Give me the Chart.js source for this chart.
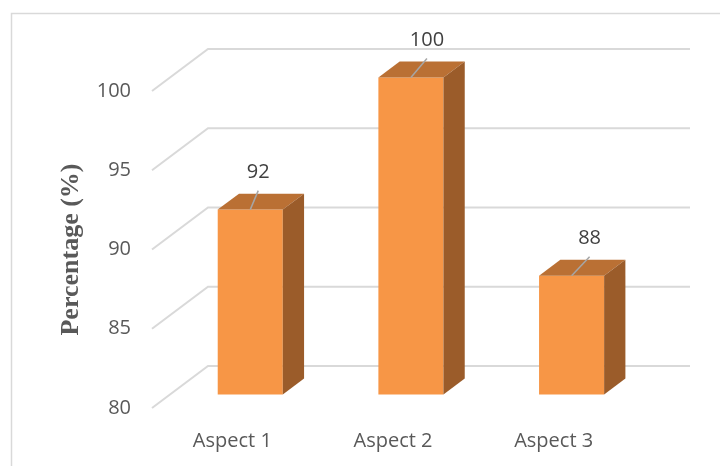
<!DOCTYPE html>
<html>
<head>
<meta charset="utf-8">
<script src="https://cdn.jsdelivr.net/npm/chart.js@4.4.1/dist/chart.umd.min.js"></script>
<style>
  html, body { margin: 0; padding: 0; background: #ffffff; }
  #wrap { width: 720px; height: 466px; position: relative; }
</style>
</head>
<body>
<div id="wrap"><canvas id="chart"></canvas></div>
<script>
// Chart data
const categories = ['Aspect 1', 'Aspect 2', 'Aspect 3'];
const percentages = [91.67, 100, 87.5];
const yTicks = [80, 85, 90, 95, 100];

// Colours (Excel orange 3D column)
const colors = {
  front: '#F79646',
  top: '#BA7034',
  side: '#9B5C2A',
  grid: '#D9D9D9',
  text: '#595959',
  label: '#404040',
  leader: '#A6A6A6',
};

// 3D projection: offset of the back wall from the front plane,
// and where the bar sits within that depth (fractions)
const depth = { dx: 56, dy: -42 };
const barDepth = { near: 0.32, far: 0.70 };
// leader line horizontal shift per bar (label placement)
const labelShift = [8, 16, 18];

const threeD = {
  id: 'threeD',
  beforeDraw(chart) {
    const ctx = chart.ctx;
    ctx.save();
    ctx.fillStyle = '#ffffff';
    ctx.fillRect(0, 0, chart.width, chart.height);
    // outer frame (runs off the right and bottom edges)
    ctx.strokeStyle = colors.grid;
    ctx.lineWidth = 1.5;
    ctx.strokeRect(11.5, 13.5, chart.width, chart.height);

    // gridlines: diagonal on the side wall, horizontal on the back wall
    const x = chart.scales.x;
    const y = chart.scales.y;
    ctx.strokeStyle = colors.grid;
    ctx.lineWidth = 2;
    yTicks.forEach((v) => {
      const py = y.getPixelForValue(v);
      ctx.beginPath();
      ctx.moveTo(x.left, py);
      ctx.lineTo(x.left + depth.dx, py + depth.dy);
      ctx.lineTo(x.right + depth.dx, py + depth.dy);
      ctx.stroke();
    });
    ctx.restore();
  },
  beforeDatasetsDraw(chart) {
    const ctx = chart.ctx;
    ctx.save();
    ctx.translate(depth.dx * barDepth.near, depth.dy * barDepth.near);
  },
  afterDatasetsDraw(chart) {
    const ctx = chart.ctx;
    const ox = depth.dx * (barDepth.far - barDepth.near);
    const oy = depth.dy * (barDepth.far - barDepth.near);
    const meta = chart.getDatasetMeta(0);
    meta.data.forEach((bar) => {
      const { x, y, base, width } = bar.getProps(['x', 'y', 'base', 'width'], true);
      const l = x - width / 2;
      const r = x + width / 2;
      // top face
      ctx.fillStyle = colors.top;
      ctx.beginPath();
      ctx.moveTo(l, y);
      ctx.lineTo(l + ox, y + oy);
      ctx.lineTo(r + ox, y + oy);
      ctx.lineTo(r, y);
      ctx.closePath();
      ctx.fill();
      // side face
      ctx.fillStyle = colors.side;
      ctx.beginPath();
      ctx.moveTo(r, y);
      ctx.lineTo(r + ox, y + oy);
      ctx.lineTo(r + ox, base + oy);
      ctx.lineTo(r, base);
      ctx.closePath();
      ctx.fill();
    });

    // value labels with leader lines
    ctx.font = '20px "Open Sans", sans-serif';
    ctx.textAlign = 'center';
    ctx.textBaseline = 'middle';
    meta.data.forEach((bar, i) => {
      const { x, y } = bar.getProps(['x', 'y'], true);
      const lx = x + labelShift[i];
      ctx.strokeStyle = colors.leader;
      ctx.lineWidth = 1.5;
      ctx.beginPath();
      ctx.moveTo(x, y);
      ctx.lineTo(lx, y - 19);
      ctx.stroke();
      ctx.fillStyle = colors.label;
      ctx.fillText(Math.round(percentages[i]).toString(), lx, y - 37);
    });
    ctx.restore();
  },
};

const ctx = document.getElementById('chart').getContext('2d');
new Chart(ctx, {
  type: 'bar',
  data: {
    labels: categories,
    datasets: [{
      data: percentages,
      base: 80,
      backgroundColor: colors.front,
      borderWidth: 0,
      barPercentage: 0.405,
      categoryPercentage: 1,
      clip: false,
    }],
  },
  options: {
    responsive: true,
    maintainAspectRatio: false,
    animation: false,
    layout: { padding: { left: 40, right: 86, top: 91, bottom: 0 } },
    plugins: {
      legend: { display: false },
      tooltip: { enabled: false },
    },
    scales: {
      x: {
        grid: { display: false, drawTicks: false },
        border: { display: false },
        ticks: {
          color: colors.text,
          padding: 21,
          font: { family: "'Open Sans', sans-serif", size: 20 },
        },
        afterFit(scale) { scale.height = 58; },
      },
      y: {
        min: 80,
        max: 100,
        afterBuildTicks(scale) { scale.ticks = yTicks.map((v) => ({ value: v })); },
        grid: { display: false, drawTicks: false },
        border: { display: false },
        ticks: {
          color: colors.text,
          padding: 21,
          font: { family: "'Open Sans', sans-serif", size: 20 },
        },
        title: {
          display: true,
          text: 'Percentage (%)',
          color: colors.text,
          padding: { top: 16, bottom: 0 },
          font: { family: "'Liberation Serif', 'Times New Roman', serif", size: 26, weight: 'bold' },
        },
        afterFit(scale) { scale.width = 112; },
      },
    },
  },
  plugins: [threeD],
});
</script>
</body>
</html>
